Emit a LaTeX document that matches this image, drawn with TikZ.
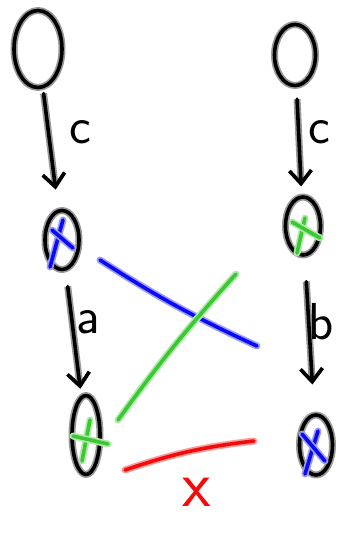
\documentclass[tikz,border=0pt]{standalone}
\usepackage{tikz}
\usetikzlibrary{arrows.meta,shapes.geometric,calc}

\definecolor{penblue}{RGB}{10,10,245}
\definecolor{pengreen}{RGB}{60,200,50}
\definecolor{penred}{RGB}{245,10,10}

\begin{document}
\begin{tikzpicture}[
  x=1pt, y=-1pt,
  ink/.style={draw=black, line width=3.6pt, line cap=round, line join=round,
    preaction={draw=black!40, line width=7pt}},
  state/.style={ellipse, ink, inner sep=0pt},
  move/.style={ink, -{Straight Barb[length=13pt, width=22pt, line width=3.6pt]}},
  lbl/.style={font=\fontsize{52}{52}\sffamily},
  pen/.style={draw=#1, line width=3.6pt, line cap=round,
    preaction={draw=#1!40, line width=7pt, line cap=round}}
]
\useasboundingbox (0,0) rectangle (339,533);

% states
\node[state, minimum width=48, minimum height=77] (s1) at (38,49) {};
\node[state, minimum width=34, minimum height=59] (m1) at (62,240) {};
\node[state, minimum width=28, minimum height=79] (b1) at (86,435) {};
\node[state, minimum width=41, minimum height=61] (s2) at (295,55) {};
\node[state, minimum width=35, minimum height=58] (m2) at (303,226) {};
\node[state, minimum width=33, minimum height=60] (r3) at (316,445) {};

% marks inside
\draw[pen=penblue] ($(m1)+(1,-20)$) -- ($(m1)+(-12,27)$);
\draw[pen=penblue] ($(m1)+(-10,-10)$) -- ($(m1)+(11,8)$);
\draw[pen=pengreen] ($(b1)+(4,-15)$) -- ($(b1)+(-4,26)$);
\draw[pen=pengreen] ($(b1)+(-13,1)$) -- ($(b1)+(22,9)$);
\draw[pen=pengreen] ($(m2)+(-6,27)$) -- ($(m2)+(2,-8)$);
\draw[pen=pengreen] ($(m2)+(-11,-4)$) -- ($(m2)+(17,12)$);
\draw[pen=penblue] ($(r3)+(2,-14)$) -- ($(r3)+(-11,29)$);
\draw[pen=penblue] ($(r3)+(-14,-11)$) -- ($(r3)+(9,16)$);

% transitions
\draw[move, shorten <=5pt, shorten >=20pt] (s1) -- (m1);
\draw[move, shorten <=16pt, shorten >=7pt] (m1) -- (b1);
\draw[move, shorten <=12pt, shorten >=9pt] (s2) -- (m2);
\draw[move, shorten <=25pt, shorten >=29pt] (m2) -- (r3);

\node[lbl] (lc1) at (80,132) {c};
\node[lbl] (la) at (88,322) {a};
\node[lbl] (lc2) at (319,132) {c};
\node[lbl] (lb) at (321,322) {b};

% links between the two runs
\coordinate (blueA) at (100,260);
\coordinate (blueB) at (257,346);
\coordinate (greenA) at (118,420);
\coordinate (greenB) at (236,274);
\coordinate (redA) at (125,470);
\coordinate (redB) at (254,441);
\draw[pen=penblue] (blueA) to[bend right=4] (blueB);
\draw[pen=pengreen] (greenA) to[bend left=3] (greenB);
\draw[pen=penred] (redA) to[bend left=6] (redB);
\node[lbl, text=penred, font=\fontsize{66}{66}\sffamily] (nope) at (197,492) {x};
\end{tikzpicture}
\end{document}
